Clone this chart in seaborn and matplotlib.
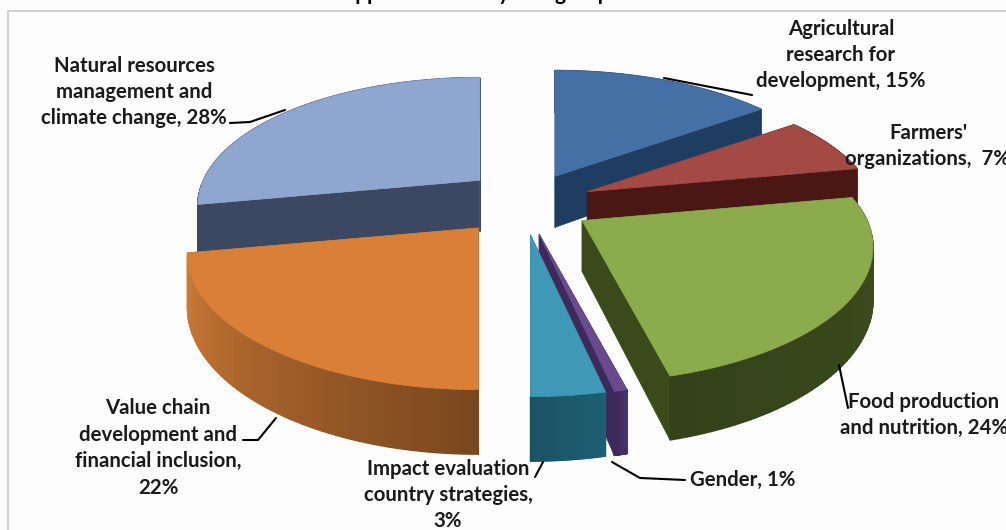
import numpy as np
import matplotlib
matplotlib.use('Agg')
import matplotlib.pyplot as plt
from matplotlib.collections import PolyCollection
import seaborn as sns

# Clockwise from 12 o'clock, as in the reference
# Gender and Impact evaluation are rounded in the labels, read off the slice widths here
categories = ['Agricultural research', 'Farmers', 'Food production', 'Gender',
              'Impact evaluation', 'Value chain', 'Natural resources']
values = [15, 7, 24, 0.6, 3.4, 22, 28]
explode_x = [1.0, 1.0, 1.0, 1.0, 1.0, 1.0, 0.8]
explode_y = [1.0, 1.0, 1.0, 1.0, 1.0, 1.0, 1.2]
radius = [1.0, 1.0, 1.0, 1.0, 1.0, 1.0, 0.97]
labels = ["Agricultural\nresearch for\ndevelopment, 15%",
          "Farmers'\norganizations,  7%",
          "Food production\nand nutrition, 24%",
          "Gender, 1%",
          "Impact evaluation\ncountry strategies,\n3%",
          "Value chain\ndevelopment and\nfinancial inclusion,\n22%",
          "Natural resources\nmanagement and\nclimate change, 28%"]
# the title is cut off by the top edge of the picture, only descenders show
title = "Support to country sub-groups"

top_colors = ['#4470a5', '#a34a45', '#8bab4d', '#6a4a8e', '#3f98b5', '#d97f37', '#8fa6d0']
wall_colors = ['#1f3d60', '#4a1715', '#3a4a1a', '#3e2a5a', '#1e5a6c', '#8a5224', '#3c4762']
arc_shades = [('#1f3d60', '#1f3d60'), ('#4a1715', '#4a1715'), ('#3f4f1d', '#33421a'),
              ('#4a3070', '#3e2a5a'), ('#1e5f72', '#1c5265'), ('#7a471e', '#cf7c38'),
              ('#3c4762', '#3c4762')]
draw_order = [0, 6, 1, 2, 5, 3, 4]

label_pos = [(841, 55, 'center'), (928, 146, 'center'), (924, 415, 'center'), (690, 480, 'left'),
             (448, 495, 'center'), (158, 448, 'center'), (134, 92, 'center')]
leaders = [[(664, 78), (700, 85), (752, 95)],
           [(839, 365), (848, 408)],
           [(612, 462), (640, 478), (685, 480)],
           [(535, 477), (543, 462)],
           [(243, 440), (258, 440), (276, 418)],
           [(230, 123), (250, 122), (285, 110)]]

CX, CY = 523, 204          # pie centre in pixels
RX, RY = 285, 128          # plane radii
KY, KX = 0.209, 0.2        # perspective strength
DEPTH = 51                 # thickness
EX, EY = 70, 31            # explosion offset


def rim(theta):
    v = np.cos(theta)
    return RX * np.sin(theta) / (1 + KX * v), -RY * v / (1 + KY * v)


def depth(theta):
    return DEPTH / (1 + KY * np.cos(theta))


sns.set_theme(style='white')
plt.rcParams['font.family'] = ['Lato', 'DejaVu Sans']

fig = plt.figure(figsize=(10.06, 5.30), dpi=100, facecolor='#fdfdfd')
ax = fig.add_axes([0, 0, 1, 1])
ax.set_xlim(0, 1006)
ax.set_ylim(530, 0)
ax.axis('off')

edges = np.radians(np.concatenate([[0], np.cumsum(values)]) * 3.6)

for i in draw_order:
    start, end = edges[i], edges[i + 1]
    mid = (start + end) / 2
    ax_x = CX + explode_x[i] * EX * np.sin(mid)
    ax_y = CY - explode_y[i] * EY * np.cos(mid)
    theta = np.linspace(start, end, 60)
    dx, dy = rim(theta)
    px, py = ax_x + radius[i] * dx, ax_y + radius[i] * dy
    drop = depth(theta)
    draw_z = draw_order.index(i) * 3

    # radial walls
    for j in (0, -1):
        wall = [(ax_x, ax_y), (px[j], py[j]), (px[j], py[j] + drop[j]), (ax_x, ax_y + DEPTH)]
        ax.fill(*zip(*wall), color=wall_colors[i], lw=0.5, zorder=draw_z)

    # rim wall, shaded along the arc
    shade = sns.blend_palette(arc_shades[i], n_colors=len(theta) - 1)
    quads = [[(px[k], py[k]), (px[k + 1], py[k + 1]),
              (px[k + 1], py[k + 1] + drop[k + 1]), (px[k], py[k] + drop[k])]
             for k in range(len(theta) - 1)]
    ax.add_collection(PolyCollection(quads, facecolors=shade, edgecolors=shade,
                                     linewidths=1.0, zorder=draw_z + 1))

    # top face
    ax.fill(np.r_[ax_x, px], np.r_[ax_y, py], color=top_colors[i], lw=0.5, zorder=draw_z + 2)

for pts in leaders:
    ax.plot(*zip(*pts), color='black', lw=1.5, zorder=40)

for text, (x, y, ha) in zip(labels, label_pos):
    ax.text(x, y, text, ha=ha, va='center', fontsize=14.7, fontweight='bold',
            linespacing=1.4, color='#1a1a1a', zorder=50)

ax.text(475, 0, title, ha='center', va='baseline', fontsize=15, fontweight='bold',
        color='black', clip_on=False)

# chart frame
ax.plot([8, 8, 1006], [530, 11, 11], color='#c8c8c8', lw=1.2, zorder=0)

fig.savefig('out.png', dpi=100, facecolor=fig.get_facecolor())
plt.close(fig)
